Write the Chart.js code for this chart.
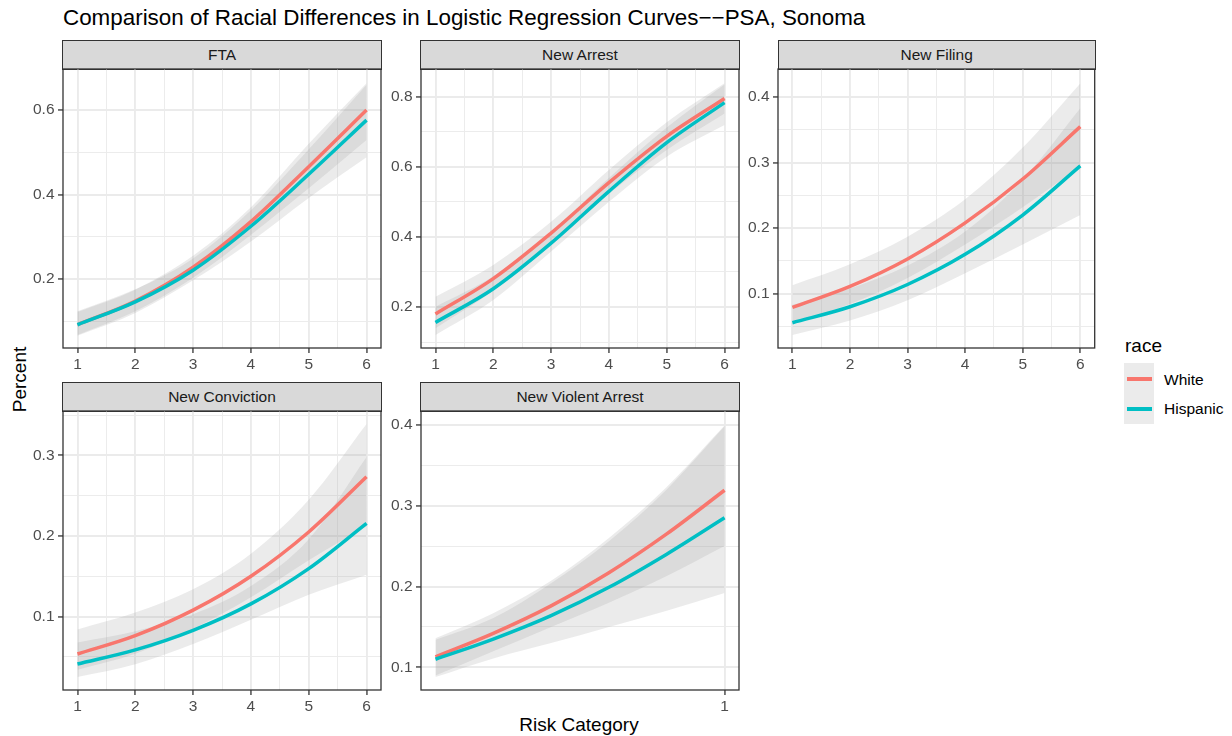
<!DOCTYPE html>
<html><head><meta charset="utf-8">
<script src="https://cdn.jsdelivr.net/npm/chart.js@4.4.0/dist/chart.umd.min.js"></script>
<style>
body{margin:0;background:#fff;width:1232px;height:736px;overflow:hidden;position:relative;font-family:"Liberation Sans",Arial,sans-serif;}
.abs{position:absolute;white-space:nowrap;line-height:1;}
.strip{position:absolute;box-sizing:border-box;background:#d9d9d9;border:1.3px solid #333;color:#1a1a1a;font-size:15.5px;display:flex;align-items:center;justify-content:center;}
canvas{position:absolute;}
</style></head><body>
<div class="abs" style="left:63px;top:7px;font-size:22.4px;color:#000;">Comparison of Racial Differences in Logistic Regression Curves−−PSA, Sonoma</div>
<div class="abs" style="left:479px;top:715.4px;width:200px;text-align:center;font-size:19px;color:#000;">Risk Category</div>
<div class="abs" style="left:-81px;top:369.5px;width:200px;height:19px;text-align:center;font-size:19px;color:#000;transform:rotate(-90deg);">Percent</div>
<div class="abs" style="left:1125px;top:335.6px;font-size:19px;color:#000;">race</div>
<div class="abs" style="left:1124px;top:363px;width:30px;height:61px;background:#ebebeb;"></div>
<div class="abs" style="left:1127px;top:377px;width:25px;height:4px;background:#F8766D;"></div>
<div class="abs" style="left:1127px;top:406.7px;width:25px;height:4px;background:#00BFC4;"></div>
<div class="abs" style="left:1164px;top:372.4px;font-size:15.5px;color:#000;">White</div>
<div class="abs" style="left:1164px;top:401.2px;font-size:15.5px;color:#000;">Hispanic</div>
<script>
// ---------- DATA ----------
const races = ['White', 'Hispanic'];
const riskX = [1, 2, 3, 4, 5, 6];
const violentX = [0, 0.2, 0.4, 0.6, 0.8, 1];
const riskXTicks = [1, 2, 3, 4, 5, 6];
const riskXMinor = [1.5, 2.5, 3.5, 4.5, 5.5];
const violentXTicks = [1];
const violentXMinor = [];

// FTA
const ftaWhite   = [0.092, 0.148, 0.228, 0.336, 0.466, 0.600];
const ftaWhiteLo = [0.068, 0.124, 0.203, 0.305, 0.415, 0.529];
const ftaWhiteHi = [0.122, 0.175, 0.255, 0.370, 0.520, 0.663];
const ftaHisp    = [0.092, 0.146, 0.221, 0.325, 0.448, 0.576];
const ftaHispLo  = [0.066, 0.120, 0.197, 0.289, 0.392, 0.488];
const ftaHispHi  = [0.124, 0.176, 0.249, 0.363, 0.507, 0.660];
const ftaYTicks = [0.2, 0.4, 0.6];
const ftaYMinor = [0.1, 0.3, 0.5];

// New Arrest
const arrestWhite   = [0.180, 0.281, 0.411, 0.555, 0.687, 0.795];
const arrestWhiteLo = [0.139, 0.246, 0.380, 0.523, 0.648, 0.752];
const arrestWhiteHi = [0.229, 0.320, 0.443, 0.591, 0.727, 0.838];
const arrestHisp    = [0.156, 0.252, 0.382, 0.530, 0.669, 0.783];
const arrestHispLo  = [0.120, 0.220, 0.358, 0.500, 0.629, 0.719];
const arrestHispHi  = [0.201, 0.288, 0.415, 0.568, 0.712, 0.835];
const arrestYTicks = [0.2, 0.4, 0.6, 0.8];
const arrestYMinor = [0.1, 0.3, 0.5, 0.7];

// New Filing
const filingWhite   = [0.079, 0.111, 0.153, 0.208, 0.275, 0.355];
const filingWhiteLo = [0.054, 0.084, 0.124, 0.175, 0.232, 0.294];
const filingWhiteHi = [0.113, 0.145, 0.187, 0.244, 0.323, 0.421];
const filingHisp    = [0.0556, 0.080, 0.114, 0.160, 0.220, 0.295];
const filingHispLo  = [0.037, 0.059, 0.090, 0.131, 0.175, 0.220];
const filingHispHi  = [0.083, 0.108, 0.143, 0.195, 0.274, 0.383];
const filingYTicks = [0.1, 0.2, 0.3, 0.4];
const filingYMinor = [0.05, 0.15, 0.25, 0.35];

// New Conviction
const convWhite   = [0.0536, 0.0764, 0.108, 0.150, 0.205, 0.2735];
const convWhiteLo = [0.034, 0.054, 0.085, 0.124, 0.170, 0.212];
const convWhiteHi = [0.084, 0.105, 0.134, 0.178, 0.245, 0.339];
const convHisp    = [0.0412, 0.0587, 0.083, 0.1158, 0.1596, 0.2157];
const convHispLo  = [0.025, 0.041, 0.066, 0.096, 0.127, 0.152];
const convHispHi  = [0.068, 0.082, 0.103, 0.138, 0.196, 0.298];
const convYTicks = [0.1, 0.2, 0.3];
const convYMinor = [0.05, 0.15, 0.25, 0.35];

// New Violent Arrest
const violentWhite   = [0.113, 0.142, 0.176, 0.217, 0.265, 0.319];
const violentWhiteLo = [0.090, 0.120, 0.150, 0.180, 0.213, 0.250];
const violentWhiteHi = [0.136, 0.167, 0.207, 0.260, 0.323, 0.399];
const violentHisp    = [0.110, 0.135, 0.164, 0.199, 0.240, 0.285];
const violentHispLo  = [0.088, 0.111, 0.130, 0.150, 0.170, 0.192];
const violentHispHi  = [0.134, 0.161, 0.204, 0.256, 0.320, 0.398];
const violentYTicks = [0.1, 0.2, 0.3, 0.4];
const violentYMinor = [0.15, 0.25, 0.35];

// ---------- STYLE / LAYOUT ----------
const COL_WHITE = '#F8766D', COL_HISP = '#00BFC4';
const RIBBON = 'rgba(153,153,153,0.2)';
const cols = [{left: 63, w: 318}, {left: 421, w: 318}, {left: 778.3, w: 316.7}];
const rows = [{top: 69.3, h: 279}, {top: 411.3, h: 278.7}];
const STRIP_H = 29;

const panels = [
  {title: 'FTA', col: 0, row: 0, x: riskX, xt: riskXTicks, xm: riskXMinor, xr: [0.75, 6.25], yr: [0.037, 0.697],
   yt: ftaYTicks, ym: ftaYMinor, w: ftaWhite, wl: ftaWhiteLo, wh: ftaWhiteHi, h: ftaHisp, hl: ftaHispLo, hh: ftaHispHi},
  {title: 'New Arrest', col: 1, row: 0, x: riskX, xt: riskXTicks, xm: riskXMinor, xr: [0.75, 6.25], yr: [0.083, 0.879],
   yt: arrestYTicks, ym: arrestYMinor, w: arrestWhite, wl: arrestWhiteLo, wh: arrestWhiteHi, h: arrestHisp, hl: arrestHispLo, hh: arrestHispHi},
  {title: 'New Filing', col: 2, row: 0, x: riskX, xt: riskXTicks, xm: riskXMinor, xr: [0.75, 6.25], yr: [0.017, 0.443],
   yt: filingYTicks, ym: filingYMinor, w: filingWhite, wl: filingWhiteLo, wh: filingWhiteHi, h: filingHisp, hl: filingHispLo, hh: filingHispHi},
  {title: 'New Conviction', col: 0, row: 1, x: riskX, xt: riskXTicks, xm: riskXMinor, xr: [0.75, 6.25], yr: [0.009, 0.355],
   yt: convYTicks, ym: convYMinor, w: convWhite, wl: convWhiteLo, wh: convWhiteHi, h: convHisp, hl: convHispLo, hh: convHispHi},
  {title: 'New Violent Arrest', col: 1, row: 1, x: violentX, xt: violentXTicks, xm: violentXMinor, xr: [-0.05, 1.05], yr: [0.072, 0.417],
   yt: violentYTicks, ym: violentYMinor, w: violentWhite, wl: violentWhiteLo, wh: violentWhiteHi, h: violentHisp, hl: violentHispLo, hh: violentHispHi}
];

Chart.defaults.font.family = '"Liberation Sans", Arial, sans-serif';
Chart.defaults.font.size = 15.5;
Chart.defaults.color = '#4d4d4d';

const borderPlugin = {
  id: 'panelBorder',
  afterDraw(chart) {
    const {ctx, chartArea: a} = chart;
    ctx.save();
    ctx.strokeStyle = '#333333';
    ctx.lineWidth = 1.3;
    ctx.strokeRect(a.left, a.top, a.right - a.left, a.bottom - a.top);
    ctx.restore();
  }
};

const pts = (xs, ys) => xs.map((x, i) => ({x: x, y: ys[i]}));
const near = (v, arr) => arr.some(t => Math.abs(t - v) < 1e-9);

function axis(range, majors, minors, isX) {
  return {
    type: 'linear', min: range[0], max: range[1], offset: false,
    afterBuildTicks: s => { s.ticks = majors.concat(minors).map(v => ({value: v})); },
    afterFit: s => {
      if (isX) s.height = 30; else s.width = 60;
      s.paddingTop = 0; s.paddingBottom = 0; s.paddingLeft = 0; s.paddingRight = 0;
    },
    border: {display: false},
    grid: {
      drawOnChartArea: true, drawTicks: true, tickLength: 5, tickWidth: 1.3,
      color: '#ebebeb',
      lineWidth: c => (c.tick && near(c.tick.value, majors)) ? 1.9 : 0.95,
      tickColor: c => (c.tick && near(c.tick.value, majors)) ? '#333333' : 'rgba(0,0,0,0)'
    },
    ticks: {
      autoSkip: false, maxRotation: 0, minRotation: 0, padding: isX ? 2 : 3.5, color: '#4d4d4d',
      callback: v => near(v, majors) ? String(v) : ''
    }
  };
}

panels.forEach(p => {
  const c = cols[p.col], r = rows[p.row];
  const strip = document.createElement('div');
  strip.className = 'strip';
  strip.style.left = (c.left - 0.65) + 'px';
  strip.style.top = (r.top - STRIP_H) + 'px';
  strip.style.width = (c.w + 1.3) + 'px';
  strip.style.height = (STRIP_H + 0.65) + 'px';
  strip.textContent = p.title;
  document.body.appendChild(strip);

  const cv = document.createElement('canvas');
  const W = Math.round(c.w + 64), H = Math.round(r.h + 32);
  cv.width = W; cv.height = H;
  cv.style.width = W + 'px'; cv.style.height = H + 'px';
  cv.style.left = (c.left - 60) + 'px';
  cv.style.top = (r.top - 2) + 'px';
  document.body.appendChild(cv);

  const line = (label, data, color, order) => ({label, data: pts(p.x, data), borderColor: color, borderWidth: 3.5,
    pointRadius: 0, fill: false, order, cubicInterpolationMode: 'monotone'});
  const band = (label, data, fill) => ({label, data: pts(p.x, data), borderColor: 'rgba(0,0,0,0)', borderWidth: 0,
    pointRadius: 0, fill, backgroundColor: RIBBON, order: 2, cubicInterpolationMode: 'monotone'});

  new Chart(cv, {
    type: 'line',
    data: {datasets: [
      line(races[0], p.w, COL_WHITE, 1),
      line(races[1], p.h, COL_HISP, 0),
      band('White lo', p.wl, false),
      band('White hi', p.wh, 2),
      band('Hispanic lo', p.hl, false),
      band('Hispanic hi', p.hh, 4)
    ]},
    options: {
      responsive: false, animation: false, devicePixelRatio: 1,
      layout: {padding: {left: 0, right: W - 60 - c.w, top: 2, bottom: 0}},
      plugins: {legend: {display: false}, tooltip: {enabled: false}},
      scales: {
        x: axis(p.xr, p.xt, p.xm, true),
        y: axis(p.yr, p.yt, p.ym, false)
      }
    },
    plugins: [borderPlugin]
  });
});
</script>
</body></html>
